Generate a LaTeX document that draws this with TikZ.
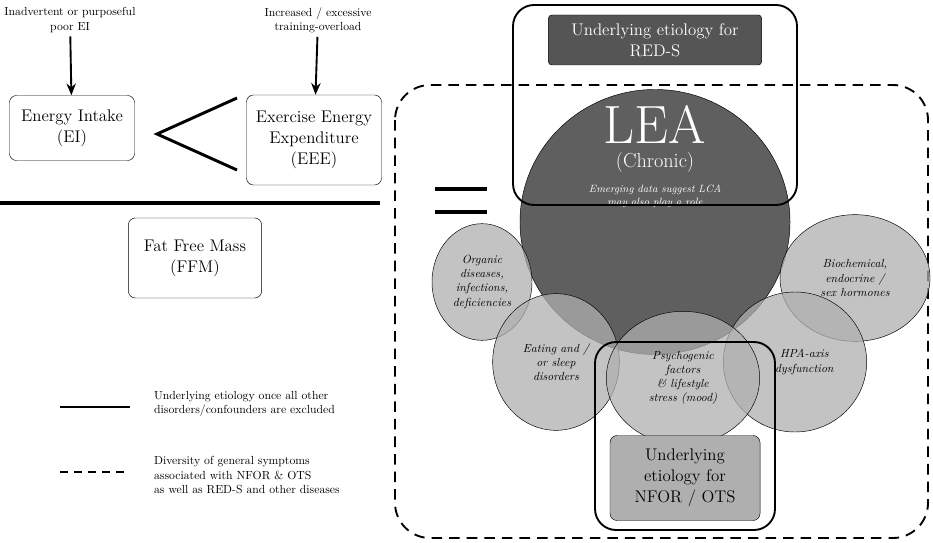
\documentclass[tikz,border=0pt]{standalone}
\usepackage{xcolor}
\usepackage{tikz}
\definecolor{darkgrey}{RGB}{85, 85, 85}
\definecolor{leagrey}{RGB}{95, 95, 95}
\definecolor{lightgrey}{RGB}{175, 175, 175}
\usetikzlibrary{shapes, arrows, arrows.meta, positioning, fit, backgrounds, calc}

\begin{document}
\begin{tikzpicture}[
    x=0.03cm, y=-0.03cm,
    box/.style={rectangle, draw, rounded corners=6pt, align=center, font=\Large},
    arrow/.style={-{Stealth[length=10pt,width=8pt]}, line width=1.6pt},
    bubble/.style={ellipse, draw, fill=lightgrey, fill opacity=0.75, inner sep=0pt},
    btext/.style={align=center, font=\itshape},
    frame/.style={draw, line width=1.6pt, rounded corners=18pt}
]
    \useasboundingbox (0,0) rectangle (933,543);

    % left side
    \node[align=center] (poor) at (70,20) {Inadvertent or purposeful\\poor EI};
    \node[box, minimum width=3.75cm, minimum height=1.95cm] (intake) at (72,128) {Energy Intake\\(EI)};
    \node[align=center] (load) at (318,20) {Increased / excessive\\training-overload};
    \node[box, minimum width=4.05cm, minimum height=2.7cm] (eee) at (314,140) {Exercise Energy\\Expenditure\\(EEE)};
    \node[box, minimum width=4.0cm, minimum height=2.4cm] (ffm) at (195,258) {Fat Free Mass\\(FFM)};
    \draw[arrow] (poor) -- (intake);
    \draw[arrow] (load) -- (eee);
    \draw[line width=2.5pt] (237,98) -- (157,134) -- (237,170);
    \draw[line width=3pt] (0,203) -- (380,203);

    % legend
    \draw[line width=1.6pt] (60,407) -- (130,407);
    \node[align=left, anchor=west] (solidtxt) at (150,404) {Underlying etiology once all other\\disorders/confounders are excluded};
    \draw[line width=1.6pt, dash pattern=on 7pt off 5pt] (60,472) -- (130,472);
    \node[align=left, anchor=west] (dashtxt) at (150,475) {Diversity of general symptoms\\associated with NFOR \& OTS\\as well as RED-S and other diseases};

    % right side
    \draw[frame, dash pattern=on 9pt off 6pt, rounded corners=30pt] (395,85) rectangle (928,538);
    \draw[line width=4pt] (435,189) -- (487,189) (435,212) -- (487,212);

    \node[ellipse, draw, fill=leagrey, minimum width=8.1cm, minimum height=7.95cm] (lea) at (655,222) {};
    \node[bubble, minimum width=3.0cm, minimum height=3.5cm] (organic) at (482,282) {};
    \node[bubble, minimum width=4.5cm, minimum height=3.8cm] (biochem) at (855,278) {};
    \node[bubble, minimum width=4.3cm, minimum height=4.2cm] (hpa) at (795,362) {};
    \node[bubble, minimum width=3.8cm, minimum height=4.1cm] (eating) at (556,362) {};
    \node[bubble, minimum width=4.6cm, minimum height=4.0cm] (psycho) at (683,378) {};
    \node[btext] at (organic) {Organic\\diseases,\\infections,\\deficiencies};
    \node[btext] at (biochem) {Biochemical,\\endocrine /\\sex hormones};
    \node[btext] at ([xshift=8pt]hpa.center) {HPA-axis\\dysfunction};
    \node[btext] at (eating) {Eating and /\\or sleep\\disorders};
    \node[btext] at (psycho) {Psychogenic\\factors\\\& lifestyle\\stress (mood)};

    \node[text=white, font=\fontsize{46}{46}\selectfont] (leatxt) at (655,124) {LEA};
    \node[text=white, font=\LARGE] (chronic) at (655,162) {(Chronic)};
    \node[text=white, font=\small\itshape, align=center] (lca) at (655,196) {Emerging data suggest LCA\\may also play a role};

    \draw[frame] (513,5) rectangle (797,205);
    \node[box, fill=darkgrey, text=white, minimum width=6.4cm, minimum height=1.5cm, rounded corners=3pt] (reds) at (655,40) {Underlying etiology for\\RED-S};

    \draw[frame] (595,342) rectangle (775,530);
    \node[box, fill=lightgrey, minimum width=4.5cm, minimum height=2.55cm, rounded corners=6pt] (nfor) at (685,478) {Underlying\\etiology for\\NFOR / OTS};
\end{tikzpicture}
\end{document}
